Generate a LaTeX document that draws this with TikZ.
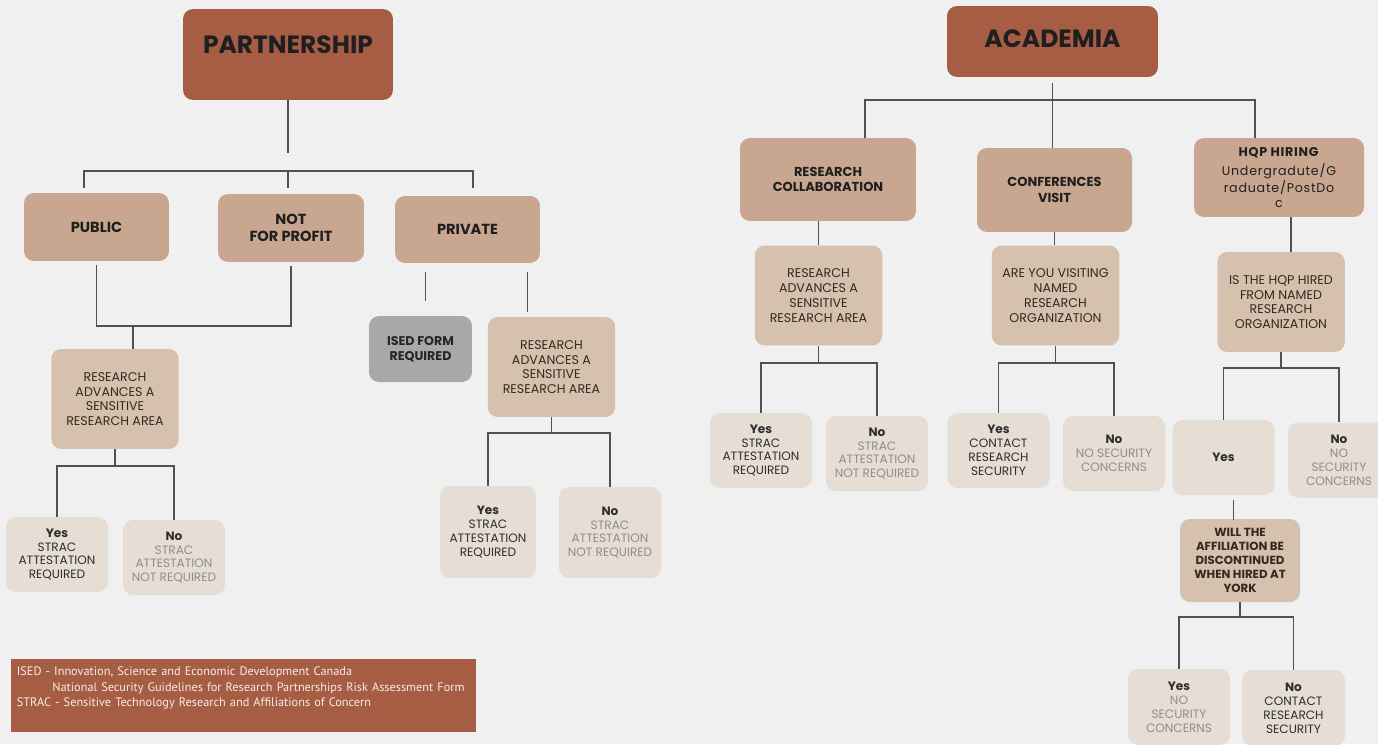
\documentclass[tikz,border=0pt]{standalone}
\usepackage{fontspec}
\setmainfont{Poppins}
\newfontfamily\notefont{PT Sans}
\newfontfamily\spacedfont[LetterSpace=6]{Poppins}

\definecolor{rust}{HTML}{A65D43}
\definecolor{sand}{HTML}{C9A68F}
\definecolor{askbg}{HTML}{D6C1AF}
\definecolor{leafbg}{HTML}{E6DDD5}
\definecolor{isedbg}{HTML}{A8A8A8}
\definecolor{paper}{HTML}{F0F0F0}
\definecolor{wire}{HTML}{505050}
\definecolor{askink}{HTML}{35291F}
\definecolor{faded}{HTML}{8E8E8E}
\definecolor{noteink}{HTML}{F6EDE7}

\newcommand{\nope}[1]{\textcolor{faded}{#1}}

\tikzset{
  plainbox/.style={rounded corners=0.2cm, align=center, inner sep=0pt},
  headbox/.style={plainbox, fill=rust, text=black!88, font=\bfseries\fontsize{14.2}{16}\selectfont},
  catbox/.style={plainbox, fill=sand, text=black!88, font=\bfseries\fontsize{8.3}{9.8}\selectfont},
  askbox/.style={plainbox, fill=askbg, text=askink, font=\fontsize{7.2}{8.4}\selectfont, minimum width=2.55cm, minimum height=2cm},
  leafbox/.style={plainbox, fill=leafbg, text=black!82, font=\fontsize{6.9}{7.9}\selectfont, minimum width=2.04cm, minimum height=1.5cm},
  isedbox/.style={plainbox, fill=isedbg, text=black!85, font=\bfseries\fontsize{7.2}{8.6}\selectfont},
  notebox/.style={fill=rust, text=noteink, align=left, inner xsep=0.11cm, inner ysep=0.15cm, font=\notefont\fontsize{7}{8.8}\selectfont},
  link/.style={draw=wire, line width=1pt}
}

\begin{document}
\begin{tikzpicture}[x=0.02cm,y=-0.02cm]
\fill[paper] (0,0) rectangle (1378,744);
\useasboundingbox (0,0) rectangle (1378,744);

% partnership side
\node[headbox, minimum width=4.2cm, text height=0.88cm, text depth=0.94cm] (partnership) at (288,54.5) {PARTNERSHIP};
\node[catbox, minimum width=2.9cm, minimum height=1.36cm] (public) at (96.5,227) {PUBLIC};
\node[catbox, minimum width=2.92cm, minimum height=1.36cm] (notprofit) at (291,228) {NOT\\FOR PROFIT};
\node[catbox, minimum width=2.9cm, minimum height=1.34cm] (private) at (467.5,229.5) {PRIVATE};

\node[askbox] (q1) at (115,399) {RESEARCH\\ADVANCES A\\SENSITIVE\\RESEARCH AREA};
\node[isedbox, minimum width=2.06cm, minimum height=1.32cm] (ised) at (420.5,349) {ISED FORM\\REQUIRED};
\node[askbox] (q2) at (551.5,367) {RESEARCH\\ADVANCES A\\SENSITIVE\\RESEARCH AREA};

\node[leafbox] (yes1) at (57,554.5) {\textbf{Yes}\\STRAC\\ATTESTATION\\REQUIRED};
\node[leafbox] (no1) at (174,557.5) {\textbf{No}\\\nope{STRAC}\\\nope{ATTESTATION}\\\nope{NOT REQUIRED}};
\node[leafbox, minimum width=1.92cm, minimum height=1.84cm] (yes2) at (488,532) {\textbf{Yes}\\STRAC\\ATTESTATION\\REQUIRED};
\node[leafbox, minimum height=1.82cm] (no2) at (610,532.5) {\textbf{No}\\\nope{STRAC}\\\nope{ATTESTATION}\\\nope{NOT REQUIRED}};

\node[notebox, anchor=north west, text width=9.08cm] (legend) at (11,659) {ISED - Innovation, Science and Economic Development Canada\\
\hspace*{0.71cm}National Security Guidelines for Research Partnerships Risk Assessment Form\\
STRAC - Sensitive Technology Research and Affiliations of Concern\rule[-0.35cm]{0pt}{0.35cm}};

\coordinate (pbusL) at (84,171);
\coordinate (pbusR) at (473,171);
\draw[link] (partnership.south) -- ++(0,53);
\draw[link, shorten <=0.1cm, shorten >=0.16cm] (public.north -| pbusL) |- (pbusR) -- (private.north -| pbusR);
\draw[link, shorten >=0.12cm] (pbusL -| partnership.south) -- (notprofit.north -| partnership.south);

\coordinate (mbus) at (133,326);
\draw[link, shorten <=0.08cm, shorten >=0.08cm] (public.south) |- (notprofit.south |- mbus) -- (notprofit.south);
\draw[link] (mbus) -- (mbus |- q1.north);
\draw[link] (private.south) ++(-42,9) -- ++(0,29);
\draw[link] (private.south) ++(60,9) -- ++(0,40);

\draw[link] (q1.south) -- ++(0,17) -| (yes1.north);
\draw[link] (q1.south) ++(0,17) -| (no1.north);
\draw[link] (q2.south) -- ++(0,16) -| (yes2.north);
\draw[link] (q2.south) ++(0,16) -| (no2.north);

% academia side
\node[headbox, minimum width=4.22cm, text height=0.82cm, text depth=0.6cm] (academia) at (1052.5,41.5) {ACADEMIA};
\node[catbox, minimum width=3.52cm, minimum height=1.66cm, font=\bfseries\fontsize{7.4}{9}\selectfont] (rc) at (828,179.5) {RESEARCH\\COLLABORATION};
\node[catbox, minimum width=3.1cm, minimum height=1.68cm, font=\bfseries\fontsize{7.4}{9.4}\selectfont] (cv) at (1054.5,190) {CONFERENCES\\VISIT};
\node[catbox, minimum width=3.4cm, minimum height=1.58cm, font=\spacedfont\fontsize{7.2}{8.6}\selectfont] (hqp) at (1279,177.5) {\textbf{HQP HIRING}\\[2pt]Undergradute/G\\raduate/PostDo\\c};

\node[askbox] (q3) at (818.5,295.5) {RESEARCH\\ADVANCES A\\SENSITIVE\\RESEARCH AREA};
\node[askbox] (q4) at (1055.5,295.5) {ARE YOU VISITING\\NAMED\\RESEARCH\\ORGANIZATION};
\node[askbox] (q5) at (1281,302) {IS THE HQP HIRED\\FROM NAMED\\RESEARCH\\ORGANIZATION};

\node[leafbox] (yes3) at (761,450.5) {\textbf{Yes}\\STRAC\\ATTESTATION\\REQUIRED};
\node[leafbox] (no3) at (877,453.5) {\textbf{No}\\\nope{STRAC}\\\nope{ATTESTATION}\\\nope{NOT REQUIRED}};
\node[leafbox] (yes4) at (998.5,450.5) {\textbf{Yes}\\CONTACT\\RESEARCH\\SECURITY};
\node[leafbox] (no4) at (1114,453.5) {\textbf{No}\\\nope{NO SECURITY}\\\nope{CONCERNS}};
\node[leafbox] (yes5) at (1223.5,457.5) {\textbf{Yes}};
\node[leafbox] (no5) at (1339,460) {\textbf{No}\\\nope{NO}\\\nope{SECURITY}\\\nope{CONCERNS}};

\node[askbox, minimum width=2.4cm, minimum height=1.66cm, font=\bfseries\fontsize{6.7}{8}\selectfont] (will) at (1240,560.5) {WILL THE\\AFFILIATION BE\\DISCONTINUED\\WHEN HIRED AT\\YORK};
\node[leafbox, minimum height=1.52cm] (yes6) at (1179,707) {\textbf{Yes}\\\nope{NO}\\\nope{SECURITY}\\\nope{CONCERNS}};
\node[leafbox, minimum width=2.06cm, minimum height=1.52cm] (no6) at (1293.5,708) {\textbf{No}\\CONTACT\\RESEARCH\\SECURITY};

\coordinate (abusL) at (865,100);
\coordinate (abusR) at (1255,100);
\draw[link] (rc.north -| abusL) |- (abusR) -- (hqp.north -| abusR);
\draw[link, shorten <=0.12cm] (academia.south) -- (academia.south |- cv.north);
\draw[link] (rc.south -| q3.north) -- (q3.north);
\draw[link] (cv.south) -- (cv.south |- q4.north);
\draw[link] (hqp.south) ++(12,0) -- ++(0,35);

\draw[link] (q3.south) -- ++(0,17) -| (yes3.north);
\draw[link] (q3.south) ++(0,17) -| (no3.north);
\draw[link] (q4.south) -- ++(0,17) -| (yes4.north);
\draw[link] (q4.south) ++(0,17) -| (no4.north);
\draw[link] (q5.south) -- ++(0,16) -| (yes5.north);
\draw[link] (q5.south) ++(0,16) -| (no5.north);
\draw[link] (yes5.south) ++(10,5) -- ++(0,20);
\draw[link] (will.south) -- ++(0,15) -| (yes6.north);
\draw[link] (will.south) ++(0,15) -| (no6.north);
\end{tikzpicture}
\end{document}
